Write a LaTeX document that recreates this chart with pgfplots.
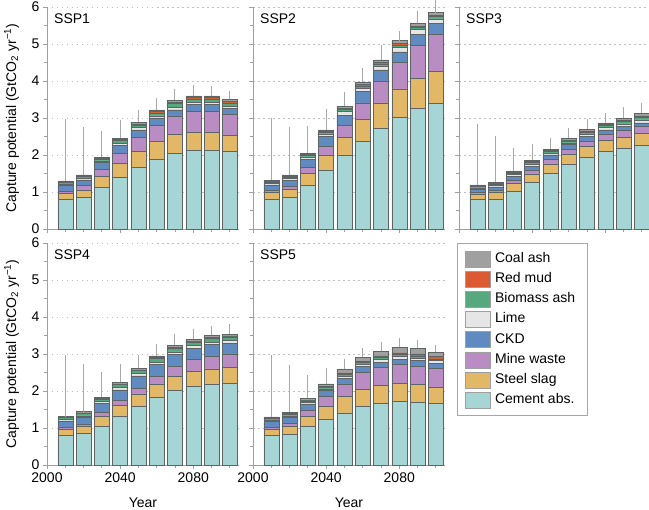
\documentclass[border=0pt]{standalone}
\usepackage{pgfplots}
\usepackage{pgfplotstable}
\pgfplotsset{compat=1.18}
\usepackage{fontspec}
\setmainfont{Liberation Sans}
\definecolor{cem}{HTML}{A6D5D6}
\definecolor{steel}{HTML}{E2B866}
\definecolor{mine}{HTML}{B98CC4}
\definecolor{ckd}{HTML}{5F8BC0}
\definecolor{lime}{HTML}{E6E6E6}
\definecolor{bio}{HTML}{56A97E}
\definecolor{redmud}{HTML}{DC5A32}
\definecolor{coal}{HTML}{A0A0A0}
\definecolor{edge}{HTML}{5E6464}

\pgfplotstableread{
year cem steel mine ckd lime bio red coal err
2010 0.80 0.17 0.06 0.14 0.04 0.05 0.02 0.02 1.67
2020 0.86 0.20 0.11 0.16 0.04 0.05 0.02 0.02 1.30
2030 1.13 0.29 0.20 0.18 0.04 0.05 0.02 0.03 0.70
2040 1.40 0.38 0.27 0.22 0.05 0.07 0.03 0.03 0.50
2050 1.67 0.43 0.38 0.20 0.06 0.07 0.03 0.04 0.34
2060 1.89 0.48 0.44 0.19 0.06 0.08 0.03 0.05 0.32
2070 2.05 0.50 0.51 0.16 0.07 0.10 0.04 0.05 0.30
2080 2.13 0.49 0.56 0.18 0.07 0.09 0.03 0.05 0.28
2090 2.14 0.48 0.56 0.18 0.07 0.09 0.03 0.05 0.26
2100 2.10 0.44 0.55 0.16 0.07 0.09 0.04 0.05 0.22
}\sspone
\pgfplotstableread{
year cem steel mine ckd lime bio red coal err
2010 0.80 0.18 0.07 0.14 0.05 0.03 0.02 0.03 1.67
2020 0.85 0.22 0.09 0.16 0.05 0.03 0.02 0.04 1.29
2030 1.18 0.32 0.17 0.21 0.07 0.03 0.03 0.04 0.73
2040 1.58 0.41 0.25 0.26 0.07 0.04 0.03 0.04 0.55
2050 1.99 0.49 0.32 0.28 0.10 0.05 0.04 0.05 0.39
2060 2.37 0.59 0.45 0.30 0.10 0.05 0.04 0.06 0.38
2070 2.73 0.68 0.59 0.30 0.11 0.05 0.04 0.07 0.40
2080 3.02 0.77 0.71 0.29 0.12 0.06 0.05 0.07 0.27
2090 3.26 0.82 0.88 0.31 0.12 0.06 0.04 0.07 0.34
2100 3.40 0.87 0.99 0.30 0.12 0.06 0.04 0.07 0.34
}\ssptwo
\pgfplotstableread{
year cem steel mine ckd lime bio red coal err
2010 0.80 0.15 0.05 0.07 0.04 0.04 0.02 0.02 1.65
2020 0.80 0.18 0.07 0.09 0.04 0.04 0.02 0.03 1.24
2030 1.01 0.22 0.09 0.11 0.04 0.04 0.02 0.04 0.61
2040 1.26 0.23 0.10 0.11 0.05 0.05 0.02 0.04 0.44
2050 1.50 0.26 0.12 0.12 0.05 0.05 0.02 0.04 0.29
2060 1.75 0.27 0.13 0.13 0.05 0.05 0.03 0.04 0.27
2070 1.94 0.29 0.15 0.12 0.06 0.06 0.03 0.04 0.28
2080 2.09 0.30 0.16 0.13 0.06 0.06 0.03 0.04 0.27
2090 2.18 0.30 0.18 0.12 0.06 0.06 0.03 0.06 0.30
2100 2.25 0.34 0.18 0.10 0.08 0.07 0.04 0.07 0.28
}\sspthree
\pgfplotstableread{
year cem steel mine ckd lime bio red coal err
2010 0.80 0.16 0.07 0.16 0.04 0.05 0.01 0.02 1.66
2020 0.86 0.18 0.07 0.18 0.04 0.06 0.02 0.03 1.28
2030 1.06 0.26 0.11 0.24 0.05 0.06 0.02 0.03 0.67
2040 1.33 0.28 0.13 0.29 0.06 0.08 0.02 0.04 0.50
2050 1.59 0.33 0.15 0.34 0.06 0.08 0.02 0.04 0.36
2060 1.83 0.36 0.20 0.32 0.07 0.10 0.02 0.05 0.32
2070 2.01 0.38 0.29 0.31 0.07 0.10 0.02 0.05 0.31
2080 2.14 0.39 0.32 0.31 0.07 0.10 0.02 0.05 0.28
2090 2.19 0.41 0.35 0.30 0.07 0.10 0.03 0.05 0.25
2100 2.21 0.42 0.37 0.29 0.07 0.10 0.03 0.05 0.26
}\sspfour
\pgfplotstableread{
year cem steel mine ckd lime bio red coal err
2010 0.80 0.16 0.06 0.15 0.04 0.04 0.02 0.03 1.67
2020 0.83 0.21 0.09 0.16 0.04 0.04 0.02 0.04 1.27
2030 1.04 0.28 0.15 0.18 0.04 0.04 0.02 0.05 0.62
2040 1.23 0.36 0.26 0.16 0.05 0.04 0.03 0.06 0.42
2050 1.41 0.45 0.33 0.15 0.06 0.05 0.04 0.10 0.27
2060 1.58 0.47 0.45 0.16 0.06 0.05 0.04 0.10 0.26
2070 1.67 0.48 0.49 0.14 0.07 0.05 0.05 0.13 0.25
2080 1.72 0.49 0.50 0.15 0.07 0.05 0.05 0.15 0.24
2090 1.70 0.48 0.50 0.14 0.07 0.05 0.06 0.15 0.23
2100 1.67 0.43 0.51 0.14 0.07 0.05 0.06 0.12 0.19
}\sspfive

\newcommand{\stackbars}[1]{%
  \addplot[fill=cem] table[x=year,y=cem]{#1};
  \addplot[fill=steel] table[x=year,y=steel]{#1};
  \addplot[fill=mine] table[x=year,y=mine]{#1};
  \addplot[fill=ckd] table[x=year,y=ckd]{#1};
  \addplot[fill=lime] table[x=year,y=lime]{#1};
  \addplot[fill=bio] table[x=year,y=bio]{#1};
  \addplot[fill=redmud] table[x=year,y=red]{#1};
  \addplot[fill=coal, error bars/.cd, y dir=plus, y explicit, error mark=none,
    error bar style={gray!68, line width=1pt}]
    table[x=year,y=coal,y error plus=err]{#1};
}

\pgfplotsset{
  panel/.style={
    scale only axis, width=192pt, height=222pt,
    anchor=south west,
    xmin=2000, xmax=2105, ymin=0, ymax=6,
    ybar stacked, bar width=15pt,
    clip=false,
    axis lines*=left,
    axis line style={-, gray!75, line width=0.8pt},
    every tick/.style={gray!75, line width=0.8pt},
    tick align=outside,
    major tick length=4pt, minor tick length=3pt,
    xtick={2000,2040,2080},
    minor xtick={2010,2020,2030,2050,2060,2070,2090,2100},
    ytick={0,1,2,3,4,5,6},
    minor ytick={0.5,1.5,2.5,3.5,4.5,5.5},
    ymajorgrids,
    major grid style={gray!50, line width=0.7pt, dash pattern=on 1.5pt off 3.5pt},
    every axis plot/.append style={draw=edge, line width=0.5pt},
    tick label style={font=\fontsize{14}{16}\selectfont},
    label style={font=\fontsize{14}{16}\selectfont},
    /pgf/number format/assume math mode=true,
    /pgf/number format/1000 sep={},
    ylabel={Capture potential (GtCO\textsubscript{2} yr\textsuperscript{−1})},
    ylabel style={at={(axis description cs:-0.185,0.5)}, anchor=center},
    xlabel={Year},
    xlabel style={at={(axis description cs:0.5,-0.168)}, anchor=center},
    legend image code/.code={\draw[#1, draw=gray!75, line width=0.6pt] (0pt,-8pt) rectangle (25pt,8pt);},
  },
  notop/.style={xticklabels={}, xlabel={}},
  noleft/.style={yticklabels={}, ylabel={}},
}

\newcommand{\paneltitle}[1]{\node[anchor=north west, font=\fontsize{14}{16}\selectfont, inner sep=0pt] at (rel axis cs:0,1) [xshift=7pt, yshift=-7pt] {#1};}

\begin{document}
\begin{tikzpicture}
\useasboundingbox (0pt,0pt) rectangle (649pt,510pt);

\begin{axis}[panel, notop, at={(47pt,281pt)}]
\stackbars{\sspone}
\paneltitle{SSP1}
\end{axis}

\begin{axis}[panel, notop, noleft, at={(253pt,281pt)}]
\stackbars{\ssptwo}
\paneltitle{SSP2}
\end{axis}

\begin{axis}[panel, notop, noleft, at={(459pt,281pt)}]
\stackbars{\sspthree}
\paneltitle{SSP3}
\end{axis}

\begin{axis}[panel, at={(47pt,45pt)}]
\stackbars{\sspfour}
\paneltitle{SSP4}
\end{axis}

\begin{axis}[panel, noleft, at={(253pt,45pt)},
  reverse legend,
  legend style={at={(1.063,1)}, anchor=north west, draw=gray!70, line width=0.8pt,
    font=\fontsize{14}{16}\selectfont, row sep=1.2pt, inner xsep=8pt, inner ysep=6pt,
    nodes={inner ysep=3pt, inner xsep=4pt, text height=10pt, text depth=3pt}},
  legend cell align=left]
\stackbars{\sspfive}
\paneltitle{SSP5}
\legend{Cement abs.\hspace{12pt},Steel slag,Mine waste,CKD,Lime,Biomass ash,Red mud,Coal ash}
\end{axis}
\end{tikzpicture}
\end{document}
